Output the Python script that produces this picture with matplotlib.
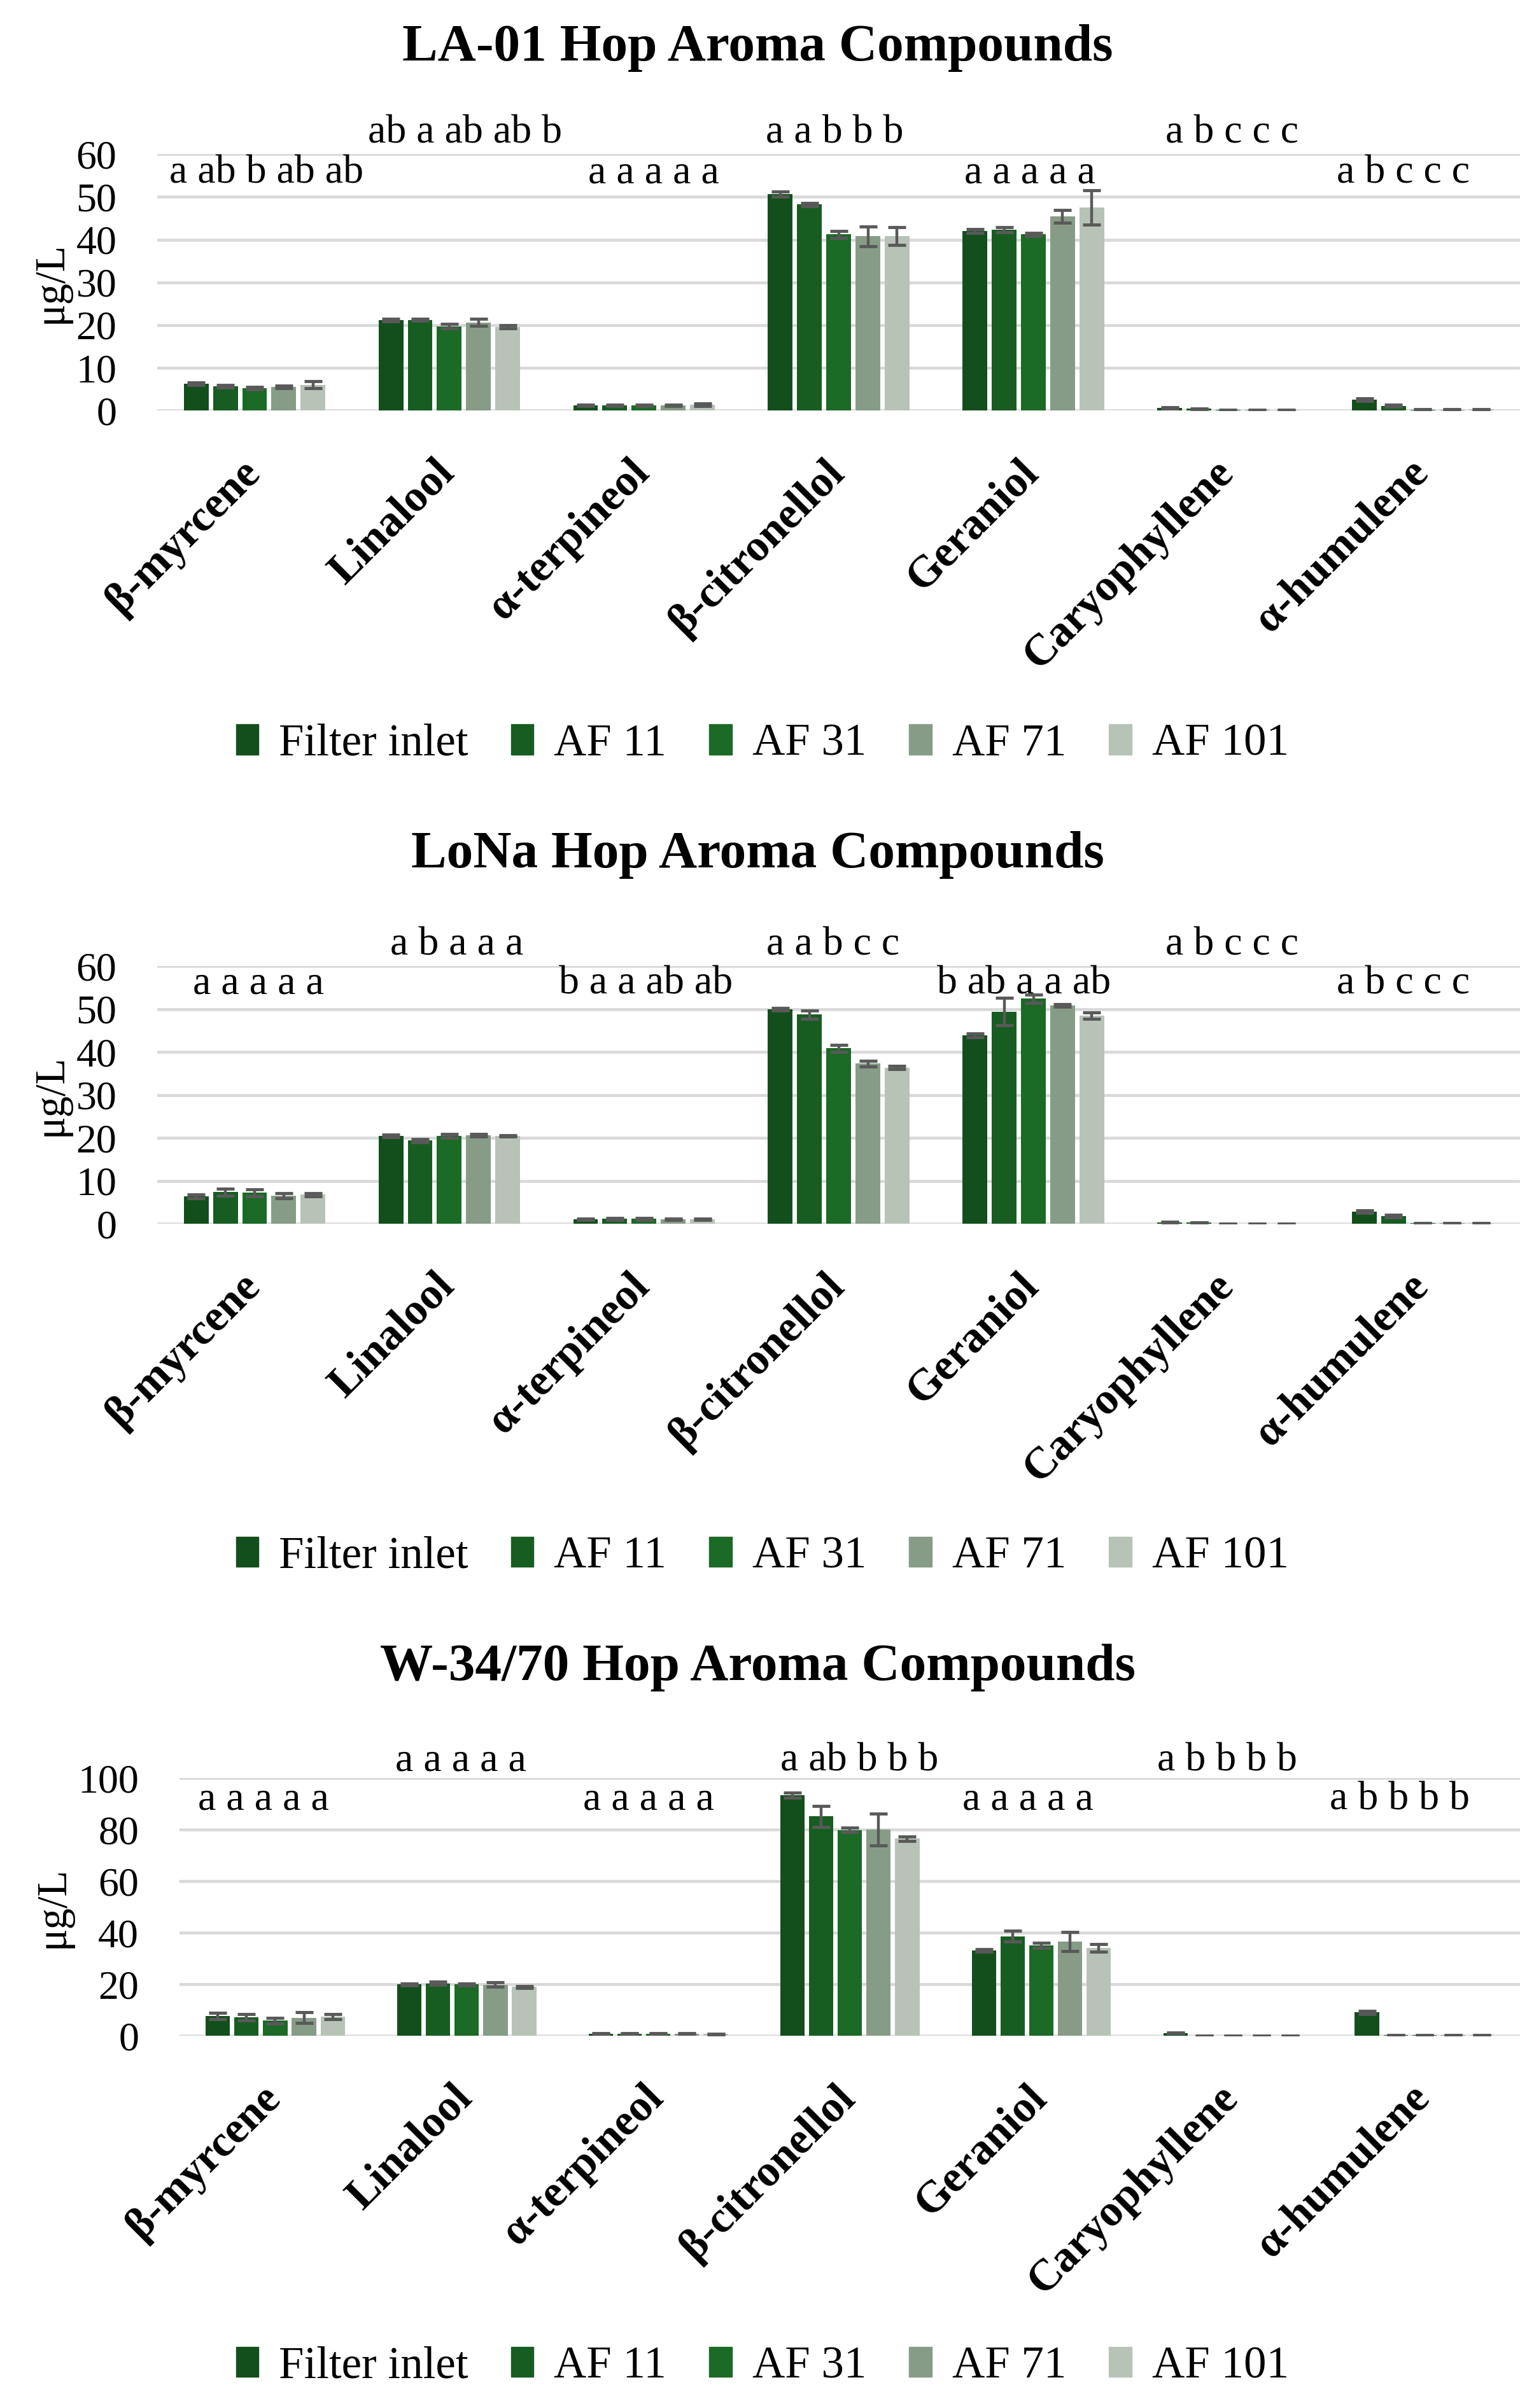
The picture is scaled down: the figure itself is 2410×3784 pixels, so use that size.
import numpy as np, matplotlib
matplotlib.use('Agg')
import matplotlib.pyplot as plt
import matplotlib.patches as mpatches
import matplotlib.transforms as mtrans

plt.rcParams.update({'font.family': 'Liberation Serif', 'font.size': 40})

compounds = ['β-myrcene', 'Linalool', 'α-terpineol', 'β-citronellol', 'Geraniol', 'Caryophyllene', 'α-humulene']
series = ['Filter inlet', 'AF 11', 'AF 31', 'AF 71', 'AF 101']
COLORS = ['#134F1C', '#175D22', '#1B6A26', '#869C86', '#B7C3B7']
ERR = '#595959'; GRID = '#D9D9D9'

# LA-01 (rows = compounds, cols = series)
la_vals = [[6.3, 5.7, 5.2, 5.5, 6.0],
           [21.1, 21.2, 19.7, 20.6, 19.6],
           [1.2, 1.2, 1.2, 1.2, 1.3],
           [50.7, 48.2, 41.2, 40.8, 40.8],
           [42.0, 42.3, 41.2, 45.4, 47.5],
           [0.6, 0.4, 0.15, 0.15, 0.15],
           [2.6, 1.1, 0.2, 0.2, 0.25]]
la_err = [[0.3, 0.3, 0.3, 0.3, 0.8],
          [0.3, 0.2, 0.5, 0.8, 0.4],
          [0.2, 0.2, 0.2, 0.2, 0.3],
          [0.6, 0.4, 0.8, 2.3, 2.1],
          [0.5, 0.6, 0.4, 1.5, 4.0],
          [0.1, 0.1, 0.05, 0.05, 0.05],
          [0.3, 0.2, 0.05, 0.05, 0.05]]
la_letters = ['a ab b ab ab', 'ab a ab ab b', 'a a a a a', 'a a b b b', 'a a a a a', 'a b c c c', 'a b c c c']

# LoNa
lona_vals = [[6.4, 7.4, 7.3, 6.6, 6.8],
             [20.5, 19.4, 20.5, 20.6, 20.5],
             [1.1, 1.2, 1.2, 1.1, 1.1],
             [50.0, 48.7, 40.9, 37.3, 36.4],
             [43.9, 49.4, 52.4, 50.8, 48.5],
             [0.4, 0.35, 0.1, 0.1, 0.1],
             [2.9, 1.9, 0.2, 0.2, 0.2]]
lona_err = [[0.4, 0.8, 0.8, 0.6, 0.3],
            [0.3, 0.4, 0.4, 0.3, 0.2],
            [0.2, 0.2, 0.2, 0.2, 0.2],
            [0.3, 1.0, 0.8, 0.6, 0.4],
            [0.4, 3.2, 1.0, 0.3, 0.7],
            [0.05, 0.05, 0.02, 0.02, 0.02],
            [0.3, 0.3, 0.05, 0.05, 0.05]]
lona_letters = ['a a a a a', 'a b a a a', 'b a a ab ab', 'a a b c c', 'b ab a a ab', 'a b c c c', 'a b c c c']

# W-34/70
w_vals = [[7.7, 7.2, 5.9, 7.1, 7.5],
          [20.0, 20.4, 20.0, 19.9, 19.0],
          [0.9, 0.9, 0.9, 0.9, 0.8],
          [93.4, 85.1, 79.9, 80.1, 76.5],
          [33.2, 38.7, 35.2, 36.6, 34.1],
          [1.2, 0.1, 0.1, 0.1, 0.1],
          [9.1, 0.3, 0.3, 0.3, 0.4]]
w_err = [[1.3, 1.3, 1.0, 2.0, 1.0],
         [0.4, 0.6, 0.4, 0.8, 0.4],
         [0.1, 0.1, 0.1, 0.1, 0.1],
         [1.0, 4.0, 0.8, 6.2, 0.9],
         [0.5, 2.0, 1.0, 3.6, 1.5],
         [0.2, 0.05, 0.05, 0.05, 0.05],
         [0.5, 0.05, 0.05, 0.05, 0.05]]
w_letters = ['a a a a a', 'a a a a a', 'a a a a a', 'a ab b b b', 'a a a a a', 'a b b b b', 'a b b b b']

fig = plt.figure(figsize=(24.1, 37.84), dpi=100)

def panel(rect, title, title_y, legend_y, vals, errs, letters, ymax, ystep, lev, shift):
    ax = fig.add_axes(rect)
    vals = np.array(vals); errs = np.array(errs)
    x = np.arange(len(compounds))
    slot = 0.15; bw = 0.127
    for j, name in enumerate(series):
        ax.bar(x + (j - 2) * slot, vals[:, j], bw, color=COLORS[j], label=name, zorder=3,
               yerr=errs[:, j], error_kw=dict(ecolor=ERR, elinewidth=3.2, capsize=10, capthick=3.5, zorder=4))
    ax.set_xlim(-0.5, len(compounds) - 0.5)
    ax.set_ylim(0, ymax)
    ax.set_yticks(np.arange(0, ymax + 1, ystep))
    ax.yaxis.grid(True, color=GRID, linewidth=3.3, zorder=0)
    ax.set_axisbelow(True)
    for s in ['top', 'right', 'left', 'bottom']:
        ax.spines[s].set_visible(False)
    ax.tick_params(axis='y', length=0, pad=46, labelsize=46)
    ax.tick_params(axis='x', length=0)
    ax.set_xticks([])
    ax.set_ylabel('μg/L', fontsize=48, labelpad=6)
    off = mtrans.ScaledTranslation(-0.24, -0.65, fig.dpi_scale_trans)
    for i, c in enumerate(compounds):
        ax.text(i, 0, c, transform=ax.get_xaxis_transform() + off, rotation=45, rotation_mode='anchor',
                ha='right', va='top', fontsize=50, fontweight='bold')
    # significance letters, alternating low / high
    for i, lab in enumerate(letters):
        yy = lev[1] if i % 2 else lev[0]
        ax.text(i + shift[i], yy, lab, transform=ax.get_xaxis_transform(), ha='center', va='center',
                fontsize=46, clip_on=False)
    fig.text(0.494, title_y, title, ha='center', va='center', fontsize=60, fontweight='bold')
    handles = [mpatches.Patch(color=COLORS[j], label=series[j]) for j in range(5)]
    fig.legend(handles=handles, loc='center', bbox_to_anchor=(0.497, legend_y), ncol=5, frameon=False,
               fontsize=51, handlelength=0.5, handleheight=0.65, handletextpad=0.45, columnspacing=0.95)
    return ax

panel([0.1025, 0.8295, 0.8885, 0.1065], 'LA-01 Hop Aroma Compounds', 0.980, 0.691, la_vals, la_err, la_letters, 60, 10,
      (0.925, 1.08), [0.06, 0.08, 0.05, -0.02, -0.02, 0.02, -0.1])
panel([0.1025, 0.4917, 0.8885, 0.1071], 'LoNa Hop Aroma Compounds', 0.645, 0.3536, lona_vals, lona_err, lona_letters, 60, 10,
      (0.93, 1.08), [0.02, 0.04, 0.01, -0.03, -0.05, 0.02, -0.1])
panel([0.117, 0.1545, 0.874, 0.1071], 'W-34/70 Hop Aroma Compounds', 0.3075, 0.0172, w_vals, w_err, w_letters, 100, 20,
      (0.915, 1.065), [-0.06, -0.03, -0.05, 0.05, -0.07, -0.03, -0.13])

fig.savefig('out.png', dpi=100)
print('[OK] out.png')
